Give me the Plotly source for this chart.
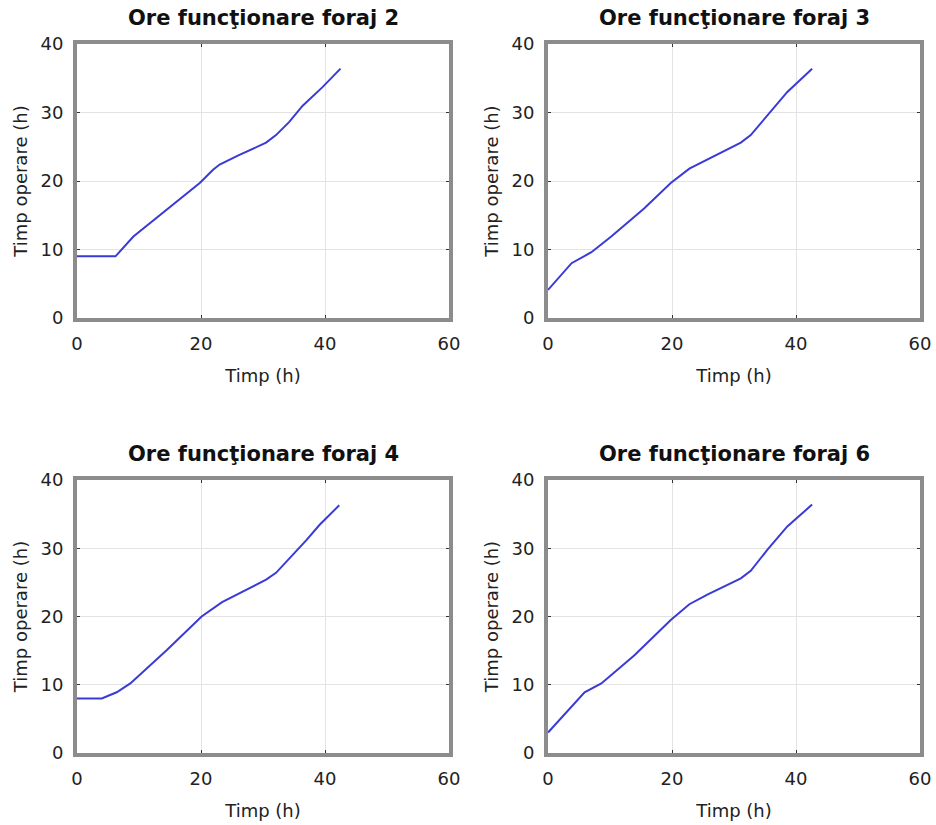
import plotly.graph_objects as go

titles = ["Ore funcţionare foraj 2", "Ore funcţionare foraj 3",
          "Ore funcţionare foraj 4", "Ore funcţionare foraj 6"]

x_f2 = [0, 6.2, 9.1, 19.8, 21.9, 23.0, 26.2, 30.5, 32.1, 34.2, 36.4, 39.6, 42.5]
y_f2 = [9.0, 9.0, 11.9, 19.7, 21.6, 22.4, 23.8, 25.6, 26.7, 28.6, 31.0, 33.7, 36.4]

x_f3 = [0, 3.8, 7.0, 10.2, 15.5, 19.8, 22.8, 24.6, 27.3, 31.1, 32.7, 35.4, 38.6, 42.6]
y_f3 = [4.1, 8.0, 9.6, 11.9, 16.0, 19.7, 21.8, 22.6, 23.8, 25.6, 26.7, 29.6, 33.0, 36.4]

x_f4 = [0, 4.0, 6.4, 8.6, 14.5, 20.1, 23.4, 26.8, 30.5, 32.1, 34.8, 37.0, 39.1, 42.3]
y_f4 = [8.0, 8.0, 8.9, 10.2, 15.1, 20.0, 22.1, 23.7, 25.4, 26.4, 29.0, 31.2, 33.4, 36.3]

x_f6 = [0, 5.9, 8.6, 13.9, 19.8, 22.8, 25.7, 31.1, 32.7, 35.4, 38.6, 42.6]
y_f6 = [3.0, 8.9, 10.2, 14.3, 19.5, 21.8, 23.2, 25.6, 26.7, 29.8, 33.2, 36.4]

series = [(x_f2, y_f2), (x_f3, y_f3), (x_f4, y_f4), (x_f6, y_f6)]

W, H = 936, 825
boxes = [(77, 449, 44, 318), (548, 920, 44, 318),
         (77, 449, 480, 753), (548, 920, 480, 753)]

fig = go.Figure()
font_main = "DejaVu Sans, Verdana, sans-serif"

for i, ((xs, ys), (l, r, t, b)) in enumerate(zip(series, boxes)):
    n = "" if i == 0 else str(i + 1)
    fig.add_trace(go.Scatter(x=xs, y=ys, mode="lines",
                             line=dict(color="#3a3ad6", width=2),
                             xaxis="x" + n, yaxis="y" + n, showlegend=False))
    common = dict(showline=True, linewidth=4, linecolor="#8c8c8c", mirror="ticks",
                  ticks="inside", ticklen=3, tickwidth=1, tickcolor="#333333",
                  showgrid=True, gridcolor="#e3e3e3", gridwidth=1, zeroline=False,
                  tickfont=dict(size=18, color="#222222", family=font_main),
                  ticklabelstandoff=6, automargin=False)
    fig.update_layout(**{
        "xaxis" + n: dict(domain=[l / W, r / W], anchor="y" + n, range=[0, 60],
                          tickvals=[0, 20, 40, 60],
                          title=dict(text="Timp (h)", standoff=18,
                                     font=dict(size=18, color="#222222", family=font_main)),
                          **common),
        "yaxis" + n: dict(domain=[1 - b / H, 1 - t / H], anchor="x" + n, range=[0, 40],
                          tickvals=[0, 10, 20, 30, 40],
                          title=dict(text="Timp operare (h)", standoff=9,
                                     font=dict(size=18, color="#222222", family=font_main)),
                          **common),
    })
    fig.add_annotation(text="<b>" + titles[i] + "</b>", xref="paper", yref="paper",
                       x=(l + r) / 2 / W, y=1 - (t - 26) / H, showarrow=False,
                       xanchor="center", yanchor="middle",
                       font=dict(size=21, color="#111111", family=font_main))

fig.update_layout(width=W, height=H, margin=dict(l=0, r=0, t=0, b=0),
                  plot_bgcolor="white", paper_bgcolor="white")

fig.write_html("out.html")
